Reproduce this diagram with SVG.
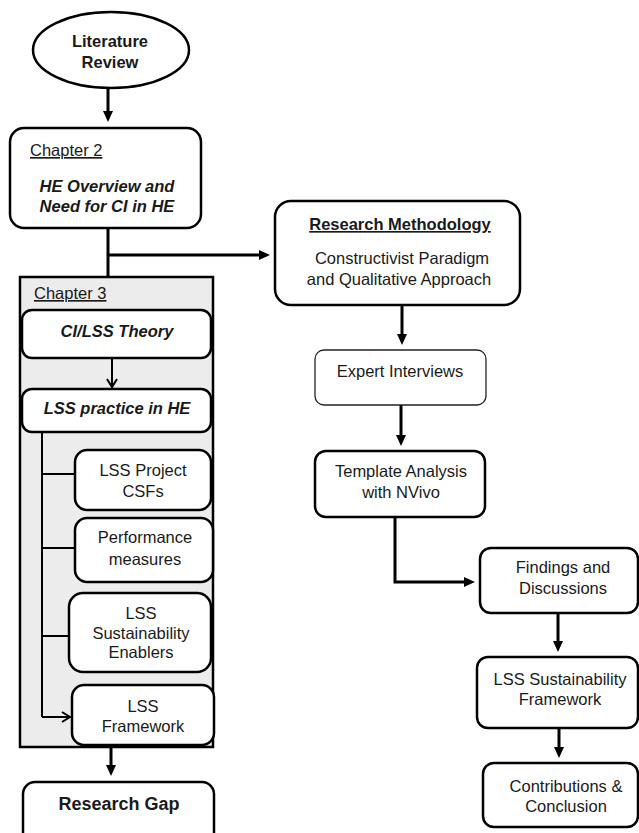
<svg xmlns="http://www.w3.org/2000/svg" width="639" height="833" viewBox="0 0 639 833">
  <defs>
    <style>
      text { font-family: "Liberation Sans", Arial, sans-serif; font-size: 16.5px; fill: #1a1a1a; }
      .c { text-anchor: middle; }
      .b { font-weight: bold; }
      .bi { font-weight: bold; font-style: italic; }
      .u { text-decoration: underline; }
      .box { fill: #ffffff; stroke: #000000; stroke-width: 2.5; }
      .thin { fill: #ffffff; stroke: #222222; stroke-width: 1.3; }
      .wire { fill: none; stroke: #000000; stroke-width: 3; }
      .tree { fill: none; stroke: #000000; stroke-width: 2; }
    </style>
    <marker id="head" markerUnits="userSpaceOnUse" markerWidth="12" markerHeight="12" refX="5" refY="5" orient="auto">
      <path d="M0,0 L11,5 L0,10 z" fill="#000000"/>
    </marker>
    <marker id="open" markerUnits="userSpaceOnUse" markerWidth="12" markerHeight="14" refX="9" refY="6" orient="auto">
      <path d="M1,1 L9,6 L1,11" fill="none" stroke="#000000" stroke-width="2"/>
    </marker>
  </defs>

  <!-- chapter 3 container (drawn first as a background panel) -->
  <g id="chapter3">
    <rect x="20" y="277" width="193" height="470" fill="#ececec" stroke="#000000" stroke-width="2.5"/>
    <text x="34" y="299" class="u">Chapter 3</text>
  </g>

  <!-- connectors -->
  <g id="connectors">
    <line x1="108" y1="88" x2="108" y2="116" class="wire" marker-end="url(#head)"/>
    <line x1="108" y1="228" x2="108" y2="277" class="wire"/>
    <line x1="108" y1="255" x2="264" y2="255" class="wire" marker-end="url(#head)"/>
    <line x1="112" y1="358" x2="112" y2="387" class="tree" marker-end="url(#open)"/>
    <path d="M42,432 L42,717" class="tree"/>
    <line x1="42" y1="474" x2="75" y2="474" class="tree"/>
    <line x1="42" y1="548" x2="75" y2="548" class="tree"/>
    <line x1="42" y1="636" x2="69" y2="636" class="tree"/>
    <line x1="42" y1="717" x2="70" y2="717" class="tree" marker-end="url(#open)"/>
    <line x1="111" y1="747" x2="111" y2="770" class="wire" marker-end="url(#head)"/>
    <line x1="402" y1="305" x2="402" y2="339" class="wire" marker-end="url(#head)"/>
    <line x1="401" y1="405" x2="401" y2="440" class="wire" marker-end="url(#head)"/>
    <path d="M395,517 L395,582 L469,582" class="wire" marker-end="url(#head)"/>
    <line x1="558" y1="613" x2="558" y2="646" class="wire" marker-end="url(#head)"/>
    <line x1="559" y1="728" x2="559" y2="752" class="wire" marker-end="url(#head)"/>
  </g>

  <g id="literature-review">
    <ellipse cx="111" cy="50" rx="78" ry="38" class="box"/>
    <text x="110" y="47" class="c b">Literature</text>
    <text x="110" y="68" class="c b">Review</text>
  </g>

  <g id="chapter2">
    <rect x="10" y="128" width="191" height="100" rx="14" class="box"/>
    <text x="30" y="156" class="u">Chapter 2</text>
    <text x="107" y="192" class="c bi">HE Overview and</text>
    <text x="107" y="212" class="c bi">Need for CI in HE</text>
  </g>

  <g id="ci-lss-theory">
    <rect x="22" y="310" width="189" height="48" rx="10" class="box"/>
    <text x="117" y="337" class="c bi">CI/LSS Theory</text>
  </g>

  <g id="lss-practice">
    <rect x="22" y="389" width="189" height="43" rx="10" class="box"/>
    <text x="117" y="414" class="c bi">LSS practice in HE</text>
  </g>

  <g id="lss-project-csfs">
    <rect x="75" y="450" width="136" height="60" rx="12" class="box"/>
    <text x="143" y="476" class="c">LSS Project</text>
    <text x="143" y="497" class="c">CSFs</text>
  </g>

  <g id="performance-measures">
    <rect x="75" y="518" width="138" height="64" rx="12" class="box"/>
    <text x="145" y="543" class="c">Performance</text>
    <text x="145" y="565" class="c">measures</text>
  </g>

  <g id="sustainability-enablers">
    <rect x="69" y="593" width="142" height="79" rx="14" class="box"/>
    <text x="141" y="619" class="c">LSS</text>
    <text x="141" y="639" class="c">Sustainability</text>
    <text x="141" y="658" class="c">Enablers</text>
  </g>

  <g id="lss-framework">
    <rect x="72" y="685" width="142" height="60" rx="12" class="box"/>
    <text x="143" y="712" class="c">LSS</text>
    <text x="143" y="732" class="c">Framework</text>
  </g>

  <g id="research-gap">
    <rect x="23" y="782" width="191" height="70" rx="12" class="box"/>
    <text x="119" y="810" class="c b" style="font-size:18px">Research Gap</text>
  </g>

  <g id="research-methodology">
    <rect x="275" y="201" width="245" height="104" rx="16" class="box"/>
    <text x="400" y="230" class="c b u">Research Methodology</text>
    <text x="402" y="264" class="c">Constructivist Paradigm</text>
    <text x="399" y="285" class="c">and Qualitative Approach</text>
  </g>

  <g id="expert-interviews">
    <rect x="315" y="350" width="171" height="55" rx="9" class="thin"/>
    <text x="400" y="377" class="c">Expert Interviews</text>
  </g>

  <g id="template-analysis">
    <rect x="315" y="451" width="170" height="66" rx="11" class="box"/>
    <text x="401" y="477" class="c">Template Analysis</text>
    <text x="401" y="498" class="c">with NVivo</text>
  </g>

  <g id="findings">
    <rect x="480" y="548" width="158" height="65" rx="11" class="box"/>
    <text x="563" y="573" class="c">Findings and</text>
    <text x="563" y="594" class="c">Discussions</text>
  </g>

  <g id="sustainability-framework">
    <rect x="477" y="657" width="161" height="71" rx="11" class="box"/>
    <text x="560" y="685" class="c">LSS Sustainability</text>
    <text x="560" y="705" class="c">Framework</text>
  </g>

  <g id="contributions">
    <rect x="483" y="763" width="155" height="64" rx="11" class="box"/>
    <text x="566" y="792" class="c">Contributions &amp;</text>
    <text x="566" y="812" class="c">Conclusion</text>
  </g>
</svg>
